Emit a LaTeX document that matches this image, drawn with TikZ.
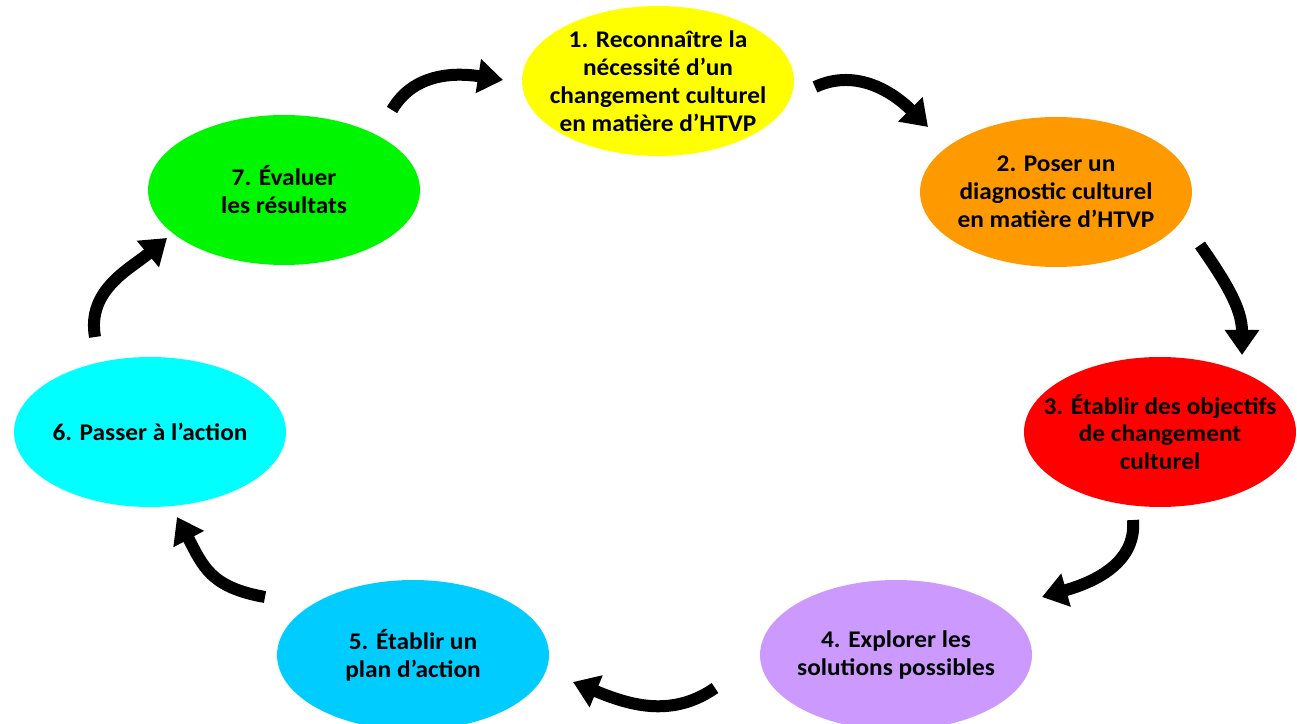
\documentclass[tikz,border=0pt]{standalone}
\usepackage{fontspec}
\setmainfont{Carlito}[FakeStretch=1.06]
\usepackage{tikz}
\usetikzlibrary{arrows.meta, positioning, shapes.geometric}
\definecolor{stageyellow}{RGB}{255, 255, 0}
\definecolor{stageorange}{RGB}{255, 153, 0}
\definecolor{stagered}{RGB}{255, 0, 0}
\definecolor{stagepurple}{RGB}{204, 153, 255}
\definecolor{stageblue}{RGB}{0, 204, 255}
\definecolor{stagecyan}{RGB}{0, 255, 255}
\definecolor{stagegreen}{RGB}{0, 245, 0}
\tikzset{
  stage/.style={ellipse, draw=none, minimum width=5.44cm, minimum height=3cm,
    inner xsep=-0.6cm, inner ysep=-0.5cm, align=center,
    font=\fontsize{13.6}{15.9}\selectfont\bfseries},
  cyclearrow/.style={line width=0.24cm,
    -{Triangle[width=0.66cm, length=0.5cm]}}
}
\begin{document}
\begin{tikzpicture}[x=0.02cm, y=0.02cm]
  \useasboundingbox (0,0) rectangle (1297,723);
  \node[stage, fill=stageyellow] (n1) at (658,642) {1. Reconnaître la\\ nécessité d’un\\ changement culturel\\ en matière d’HTVP};
  \node[stage, fill=stageorange] (n2) at (1056,531) {2. Poser un\\ diagnostic culturel\\ en matière d’HTVP};
  \node[stage, fill=stagered] (n3) at (1160,291) {3. Établir des objectifs\\ de changement\\ culturel};
  \node[stage, fill=stagepurple] (n4) at (896,68) {4. Explorer les\\ solutions possibles};
  \node[stage, fill=stageblue] (n5) at (413,68) {5. Établir un\\ plan d’action};
  \node[stage, fill=stagecyan] (n6) at (150,291) {6. Passer à l’action};
  \node[stage, fill=stagegreen] (n7) at (284,533) {7. Évaluer\\ les résultats};

  \draw[cyclearrow] ([shift={(108,80)}]n7.center) to[out=60, in=171] ([shift={(-155,1)}]n1.center);
  \draw[cyclearrow] ([shift={(157,-6)}]n1.center) to[out=25, in=135] ([shift={(-128,65)}]n2.center);
  \draw[cyclearrow] ([shift={(144,-53)}]n2.center) to[out=-55, in=90] ([shift={(82,77)}]n3.center);
  \draw[cyclearrow] ([shift={(-27,-88)}]n3.center) to[out=-85, in=16] ([shift={(146,58)}]n4.center);
  \draw[cyclearrow] ([shift={(-181,-33)}]n4.center) to[out=215, in=-22] ([shift={(160,-27)}]n5.center);
  \draw[cyclearrow] ([shift={(-148,58)}]n5.center) to[out=170, in=-62, looseness=1.2] ([shift={(27,-85)}]n6.center);
  \draw[cyclearrow] ([shift={(-55,95)}]n6.center) to[out=100, in=220] ([shift={(-117,-48)}]n7.center);
\end{tikzpicture}
\end{document}
